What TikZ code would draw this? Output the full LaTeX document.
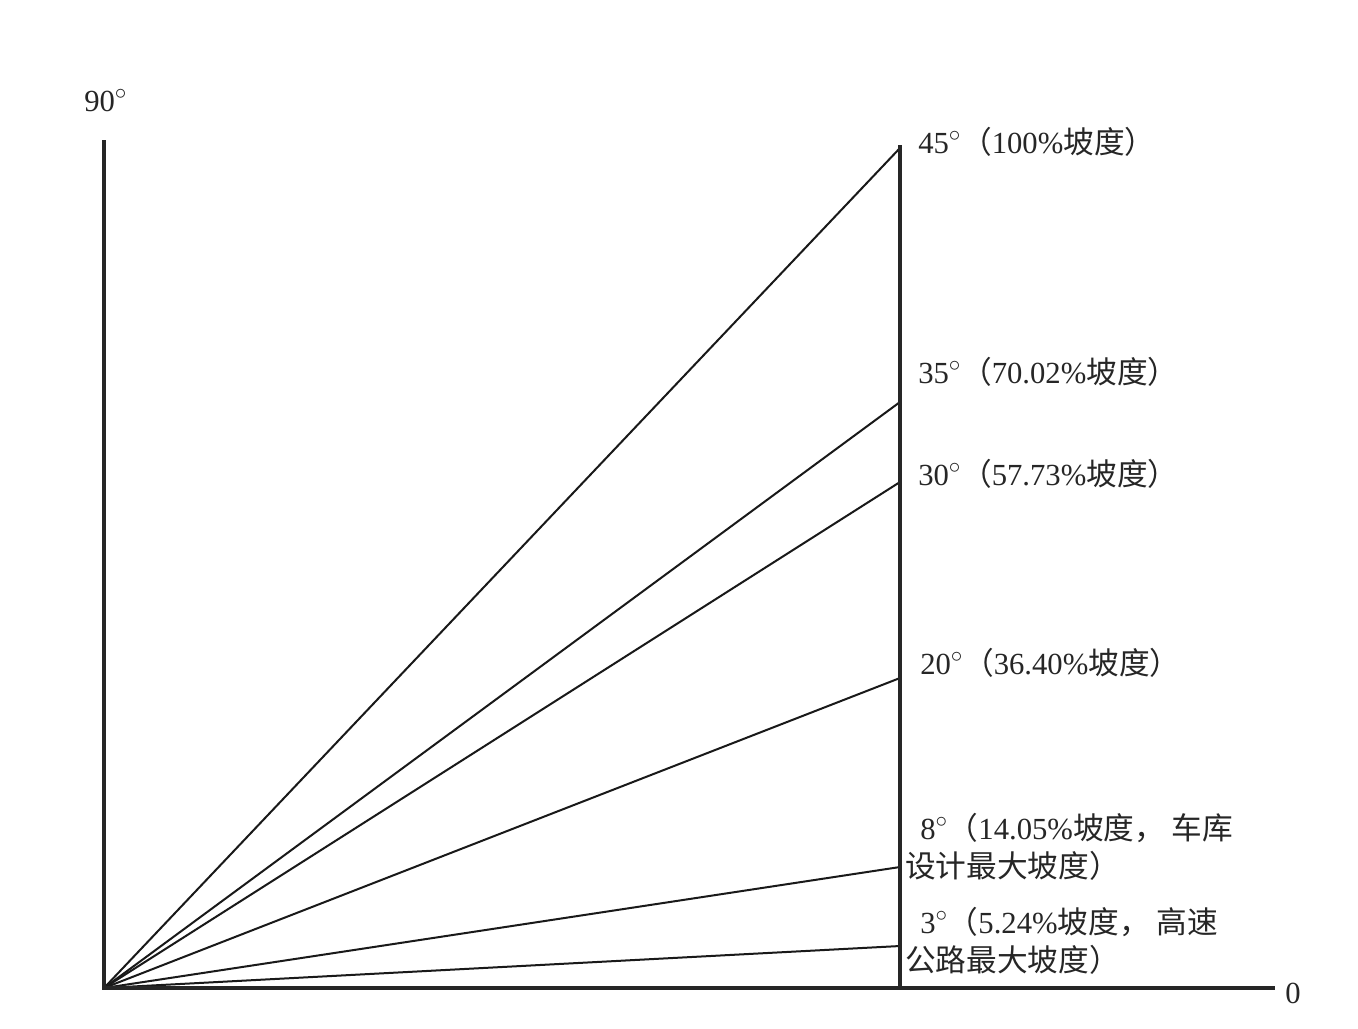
\documentclass[tikz,border=0pt]{standalone}
\usepackage{fontspec}
\setmainfont{Liberation Serif}
\newfontfamily\cjk{Noto Sans CJK SC}
\begin{document}
\begin{tikzpicture}[x=0.75pt,y=-0.75pt,
  axisline/.style={line width=3.2pt, draw=black!85},
  slopeline/.style={line width=1.5pt, draw=black!90},
  lbl/.style={anchor=west, inner sep=0pt, font=\fontsize{23}{27}\selectfont, text=black!85}]
\useasboundingbox[fill=white] (0,0) rectangle (1358,1028);
\coordinate (O) at (104,988);
\coordinate (T) at (104,140);
\coordinate (R) at (1275,988);
\coordinate (RB) at (900,988);
\coordinate (RT) at (900,145);
\coordinate (p45) at (900,148);
\coordinate (p35) at (900,402);
\coordinate (p30) at (900,482);
\coordinate (p20) at (900,678);
\coordinate (p8) at (900,867);
\coordinate (p3) at (900,946);
\foreach \p in {p45,p35,p30,p20,p8,p3} \draw[slopeline] (O) -- (\p);
\draw[axisline] (T) -- (O) -- (R);
\draw[axisline, line width=3.6pt] (RB) -- (RT);
\node[lbl] (l90) at (84,101) {90$^{\circ}$};
\node[lbl] (l45) at (918,142) {45$^{\circ}${\cjk（}100\%{\cjk 坡度）}};
\node[lbl] (l35) at (918,372) {35$^{\circ}${\cjk（}70.02\%{\cjk 坡度）}};
\node[lbl] (l30) at (918,474) {30$^{\circ}${\cjk（}57.73\%{\cjk 坡度）}};
\node[lbl] (l20) at (920,663) {20$^{\circ}${\cjk（}36.40\%{\cjk 坡度）}};
\node[lbl] (l8a) at (920,828) {8$^{\circ}${\cjk（}14.05\%{\cjk 坡度，\ 车库}};
\node[lbl] (l8b) at (905,866) {\cjk 设计最大坡度）};
\node[lbl] (l3a) at (920,922) {3$^{\circ}${\cjk（}5.24\%{\cjk 坡度，\ 高速}};
\node[lbl] (l3b) at (905,960) {\cjk 公路最大坡度）};
\node[lbl] (l0) at (1285,993) {0};
\end{tikzpicture}
\end{document}
